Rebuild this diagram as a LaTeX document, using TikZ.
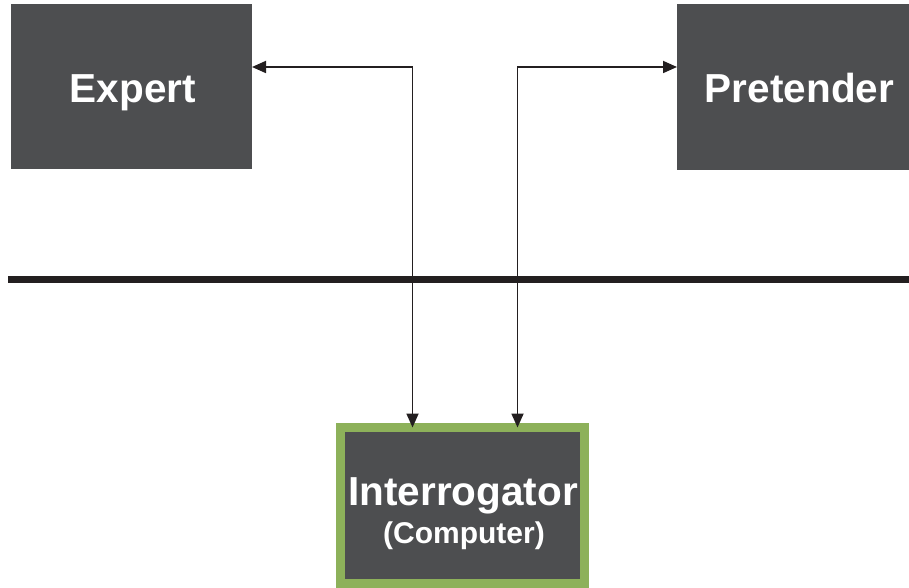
\documentclass[tikz,border=0pt]{standalone}
\usepackage{fontspec}
\setmainfont{Liberation Sans}
\usetikzlibrary{arrows.meta}
\definecolor{boxgrey}{HTML}{4D4E50}
\definecolor{boxgreen}{HTML}{8DB15A}
\definecolor{linedark}{HTML}{231F20}
\begin{document}
\begin{tikzpicture}[x=1pt,y=1pt,
  greybox/.style={fill=boxgrey, inner sep=0pt, outer sep=0pt},
  boxtext/.style={text=white, font=\bfseries\fontsize{40.5}{48}\selectfont, anchor=base, inner sep=0pt},
  subtext/.style={text=white, font=\bfseries\fontsize{30}{36}\selectfont, anchor=base, inner sep=0pt},
  conn/.style={draw=linedark, line width=1.8pt, {Triangle[length=14pt,width=12pt]}-{Triangle[length=14pt,width=12pt]}},
  divider/.style={draw=linedark, line width=7pt}]
\useasboundingbox (0,0) rectangle (909,-588);
\node[greybox, minimum width=241pt, minimum height=165pt] (expert) at (131.5,-86.5) {};
\node[greybox, minimum width=232pt, minimum height=166pt] (pretender) at (793,-87) {};
\node[greybox, draw=boxgreen, line width=9pt, minimum width=244pt, minimum height=156pt] (interr) at (462.5,-505.5) {};
\node[boxtext] (texpert) at (133,-103) {Expert};
\node[boxtext] (tpretender) at (799.5,-103) {Pretender};
\node[boxtext] (tinterr) at (463,-505) {Interrogator};
\node[subtext] (tcomp) at (464,-543) {(Computer)};
\coordinate (dl) at (8,-279.5);
\coordinate (dr) at (909,-279.5);
\draw[divider] (dl) -- (dr);
\draw[conn] ([yshift=19.5pt]expert.east) -| ([xshift=-50pt]interr.north);
\draw[conn] ([yshift=20pt]pretender.west) -| ([xshift=55pt]interr.north);
\end{tikzpicture}
\end{document}
